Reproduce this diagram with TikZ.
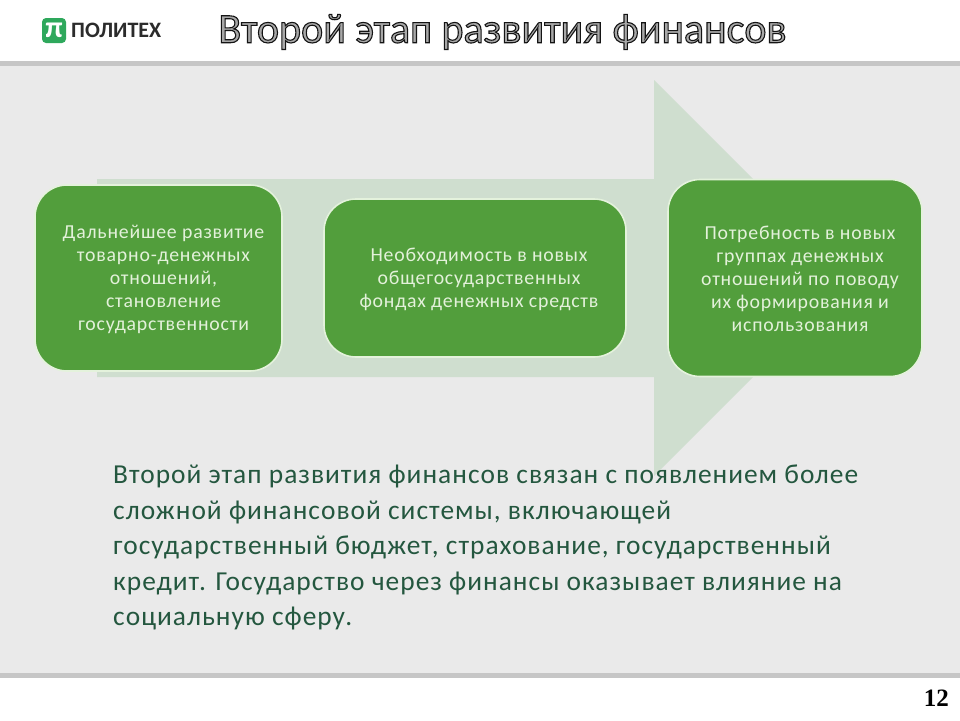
\documentclass[tikz,border=0pt]{standalone}
\usepackage{fontspec}
\setmainfont{Carlito}
\newfontfamily\serifnum{Liberation Serif}
\newfontfamily\boxfont[LetterSpace=4]{Carlito}
\newfontfamily\bodyfont[LetterSpace=3.7]{Carlito}
\definecolor{pagebg}{HTML}{EAEAEA}
\definecolor{rulegrey}{HTML}{C6C6C6}
\definecolor{arrowgreen}{HTML}{CFDECF}
\definecolor{boxgreen}{HTML}{529E3C}
\definecolor{boxedge}{HTML}{E4F2DC}
\definecolor{boxtext}{HTML}{E3F1DA}
\definecolor{bodygreen}{HTML}{24573F}
\definecolor{logogreen}{HTML}{2EA85C}
\definecolor{logotext}{HTML}{2B2B2B}
\definecolor{titlefill}{HTML}{A8A8A8}
\tikzset{
  greenbox/.style={draw=boxedge,line width=1.6pt,fill=boxgreen,rounded corners=32pt,
    minimum height=#1,inner sep=0pt},
  boxlabel/.style={text=boxtext,align=center,inner sep=0pt,
    font=\fontsize{19.8pt}{23pt}\boxfont},
}
\begin{document}
\begin{tikzpicture}[x=1pt,y=-1pt]
\useasboundingbox (0,0) rectangle (960,720);
\fill[white] (0,0) rectangle (960,720);
\fill[pagebg] (0,62) rectangle (960,677);
\fill[rulegrey] (0,61) rectangle (960,66);
\fill[rulegrey] (0,673) rectangle (960,678);
\fill[arrowgreen] (97,179) -- (654,179) -- (654,80) -- (852,278) -- (654,476) -- (654,377) -- (97,377) -- cycle;
% logo
\node[fill=logogreen,rounded corners=4pt,minimum width=24pt,minimum height=25pt,inner sep=0pt,
  text=white,font=\fontsize{30pt}{30pt}\selectfont\bfseries] (logo) at (54,30.5) {π};
\node[anchor=west,inner sep=0pt,text=logotext,font=\fontsize{22pt}{24pt}\selectfont\bfseries] (brand) at (71,30.5) {ПОЛИТЕХ};
% title
\node[anchor=center,inner sep=0pt,text=titlefill,font=\fontsize{42pt}{44pt}\selectfont] (title) at (502.5,32)
  {\special{pdf:code q 2 Tr 1.1 w 0.08 0.08 0.08 RG}Второй этап развития финансов\special{pdf:code Q}};
% boxes
\node[greenbox=186pt,minimum width=247pt] (b1) at (158.5,278) {};
\node[greenbox=158pt,minimum width=302pt] (b2) at (475,278) {};
\node[greenbox=197pt,minimum width=254pt] (b3) at (795,278) {};
\node[boxlabel] (t1) at ([xshift=5pt,yshift=-1pt]b1.center) {Дальнейшее развитие\\товарно-денежных\\отношений,\\становление\\государственности};
\node[boxlabel] (t2) at ([xshift=4pt,yshift=-1pt]b2.center) {Необходимость в новых\\общегосударственных\\фондах денежных средств};
\node[boxlabel] (t3) at ([xshift=5pt,yshift=-1pt]b3.center) {Потребность в новых\\группах денежных\\отношений по поводу\\их формирования и\\использования};
% paragraph
\node[anchor=north west,inner sep=0pt,text=bodygreen,align=left,font=\fontsize{27.4pt}{35.5pt}\bodyfont] (body) at (113,465)
 {Второй этап развития финансов связан с появлением более\\сложной финансовой системы, включающей\\государственный бюджет, страхование, государственный\\кредит. Государство через финансы оказывает влияние на\\социальную сферу.};
\node[anchor=east,inner sep=0pt,text=black,font=\fontsize{25pt}{26pt}\selectfont\serifnum\bfseries] (num) at (949,698) {12};
\end{tikzpicture}
\end{document}
